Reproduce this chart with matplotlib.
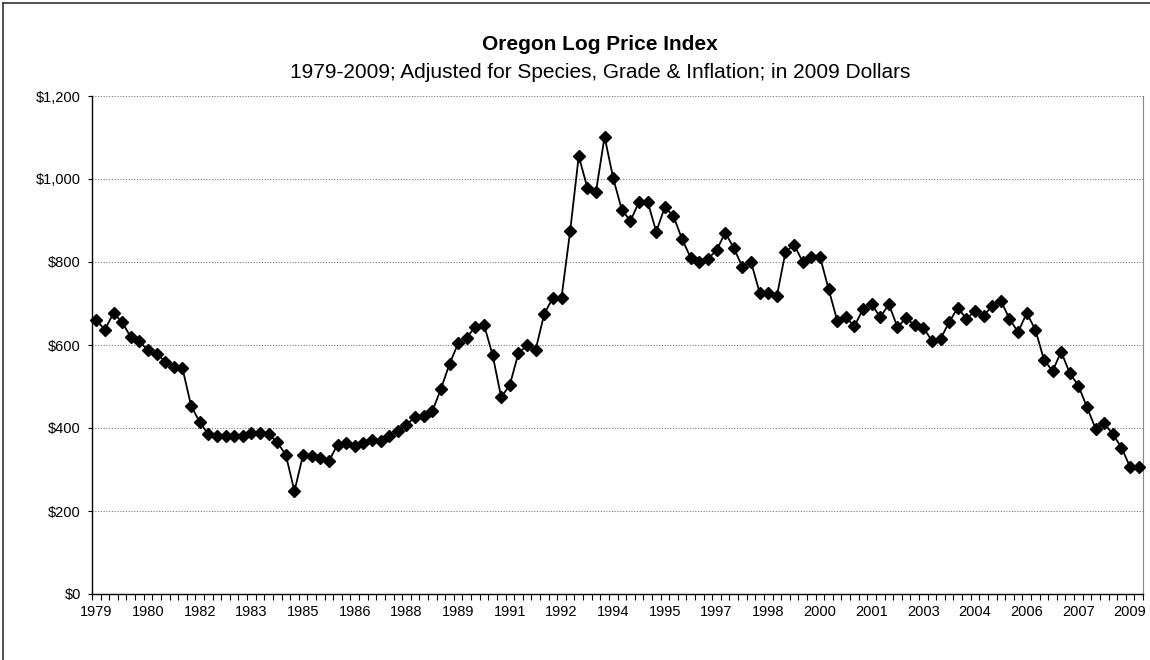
import matplotlib
matplotlib.use("Agg")
import matplotlib.pyplot as plt
from matplotlib.lines import Line2D

plt.rcParams['font.family'] = ['Liberation Sans', 'DejaVu Sans']

# Quarterly categories 1979 Q1 .. 2009 Q2
start_year = 1979
n_quarters = 122
categories = [f"{start_year + i // 4} Q{i % 4 + 1}" for i in range(n_quarters)]

# Oregon log price index, 2009 dollars
prices = [
    660, 637, 677, 655, 619, 609, 587, 579, 560, 548,
    544, 454, 414, 385, 380, 380, 380, 380, 388, 388,
    385, 366, 335, 248, 335, 332, 327, 320, 360, 364,
    357, 364, 372, 369, 381, 393, 407, 427, 430, 440,
    494, 554, 604, 618, 644, 649, 576, 474, 504, 580,
    599, 589, 675, 714, 714, 874, 1055, 979, 969, 1102,
    1002, 926, 899, 945, 945, 873, 933, 910, 855, 810,
    800, 808, 828, 871, 834, 788, 800, 726, 726, 718,
    824, 842, 800, 813, 813, 735, 659, 667, 645, 687,
    698, 667, 698, 643, 665, 647, 642, 610, 615, 655,
    690, 663, 682, 670, 695, 707, 663, 631, 677, 637,
    565, 537, 584, 532, 502, 450, 398, 411, 385, 353,
    306, 306,
]

tick_labels = ["1979", "1980", "1982", "1983", "1985", "1986", "1988",
               "1989", "1991", "1992", "1994", "1995", "1997", "1998",
               "2000", "2001", "2003", "2004", "2006", "2007", "2009"]
y_ticks = [0, 200, 400, 600, 800, 1000, 1200]
y_tick_labels = ["$0", "$200", "$400", "$600", "$800", "$1,000", "$1,200"]

title = "Oregon Log Price Index"
subtitle = "1979-2009; Adjusted for Species, Grade & Inflation; in 2009 Dollars"

fig = plt.figure(figsize=(11.5, 6.6), dpi=100)
ax = fig.add_axes([92 / 1150, 1 - 594 / 660, (1143 - 92) / 1150, (594 - 96) / 660])

x = list(range(len(prices)))
ax.plot(x, prices, color="black", linewidth=1.3, marker="D",
        markersize=6, markerfacecolor="black", markeredgecolor="black",
        zorder=3, clip_on=False)

ax.set_xlim(-0.5, len(prices) - 0.5)
ax.set_ylim(0, 1200)

ax.set_yticks(y_ticks)
ax.set_yticklabels(y_tick_labels, fontsize=10.5)
ax.yaxis.grid(True, linestyle=(0, (1, 1.5)), color="#777777", linewidth=0.8)
ax.set_axisbelow(True)

label_pos = [i * 6 for i in range(len(tick_labels))]
ax.set_xticks(label_pos)
ax.set_xticklabels(tick_labels, fontsize=10.5)
ax.tick_params(axis="x", which="major", length=0, pad=8)
ax.set_xticks([i - 0.5 for i in range(len(prices) + 1)], minor=True)
ax.tick_params(axis="x", which="minor", length=4, width=0.8, direction="out")
ax.tick_params(axis="y", length=3, width=0.8, pad=5)

ax.spines["top"].set_visible(False)
ax.spines["right"].set_color("#888888")
ax.spines["right"].set_linewidth(0.8)
ax.spines["left"].set_linewidth(1.0)
ax.spines["bottom"].set_linewidth(1.0)

fig.text(600 / 1150, 1 - 45 / 660, title, ha="center", va="center",
         fontsize=15, fontweight="bold")
fig.text(600 / 1150, 1 - 72 / 660, subtitle, ha="center", va="center",
         fontsize=15)

# outer chart border (top and left visible)
fig.add_artist(Line2D([3 / 1150, 1], [1 - 3 / 660, 1 - 3 / 660],
                      transform=fig.transFigure, color="#333333", linewidth=1.2))
fig.add_artist(Line2D([3 / 1150, 3 / 1150], [0, 1 - 3 / 660],
                      transform=fig.transFigure, color="#333333", linewidth=1.2))

fig.savefig("out.png", dpi=100)
